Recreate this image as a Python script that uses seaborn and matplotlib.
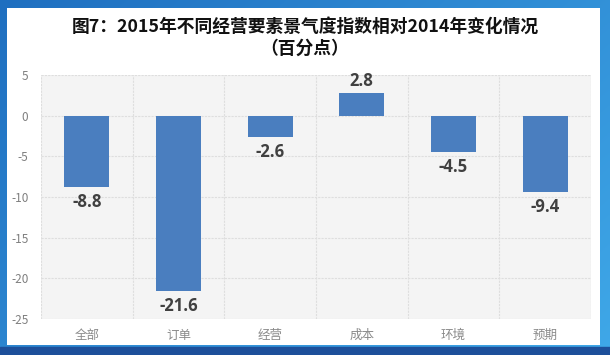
import numpy as np
import pandas as pd
import matplotlib
matplotlib.use("Agg")
import matplotlib.pyplot as plt
import seaborn as sns
from matplotlib.patches import Rectangle

categories = ["全部", "订单", "经营", "成本", "环境", "预期"]
values = [-8.8, -21.6, -2.6, 2.8, -4.5, -9.4]
yticks = [5, 0, -5, -10, -15, -20, -25]
title_line1 = "图7：2015年不同经营要素景气度指数相对2014年变化情况"
title_line2 = "（百分点）"

sns.set_theme(style="white")
plt.rcParams['font.family'] = ['Noto Sans CJK SC', 'DejaVu Sans']

W, H = 6.10, 3.55
fig = plt.figure(figsize=(W, H), dpi=100)

# blue gradient frame background
bg = fig.add_axes([0, 0, 1, 1])
grad = np.linspace(0, 1, 256)
gx, gy = np.meshgrid(grad, grad)
c1 = np.array([0x1f, 0x6f, 0xc0]) / 255
c2 = np.array([0x3f, 0xa8, 0xe8]) / 255
t = (0.6 * gx + 0.4 * (1 - gy))
img = c1[None, None, :] * (1 - t[..., None]) + c2[None, None, :] * t[..., None]
bg.imshow(img, extent=[0, 1, 0, 1], aspect="auto", origin="lower")
bg.add_patch(Rectangle((0, 0), 1, 8 / 355, color="#1d4f9a", transform=bg.transAxes))
bg.add_patch(Rectangle((7 / 610, 10 / 355), (600 - 7) / 610, (347 - 10) / 355,
                       facecolor="white", edgecolor="none", transform=bg.transAxes))
bg.set_xlim(0, 1); bg.set_ylim(0, 1)
bg.axis("off")

# plot area
left, right, top, bottom = 41, 591, 75, 319
ax = fig.add_axes([left / 610, 1 - bottom / 355, (right - left) / 610, (bottom - top) / 355])
ax.set_facecolor("#f4f4f4")

df = pd.DataFrame({"cat": categories, "val": values})
sns.barplot(data=df, x="cat", y="val", color="#4a7ebf", width=0.49, ax=ax,
            saturation=1, zorder=3, edgecolor="none", linewidth=0)

ax.set_ylim(-25, 5)
ax.set_xlim(-0.5, len(categories) - 0.5)
ax.set_yticks(yticks)
ax.set_yticklabels([str(v) for v in yticks])
ax.tick_params(axis="y", colors="#7f7f7f", labelsize=8.5, length=0, pad=9)
ax.tick_params(axis="x", colors="#8a8a8a", labelsize=9, length=0, pad=7)
ax.set_xlabel("")
ax.set_ylabel("")
for yv in yticks:
    ax.axhline(yv, color="#dedede", lw=0.8, ls=(0, (2, 1)), zorder=1)
for xv in np.arange(-0.5, len(categories), 1):
    ax.axvline(xv, color="#dedede", lw=0.8, ls=(0, (2, 1)), zorder=1)
for s in ax.spines.values():
    s.set_visible(False)

for i, v in enumerate(values):
    if v < 0:
        ax.text(i, v - 0.7, f"{v:.1f}", ha="center", va="top", fontsize=12,
                fontweight="bold", color="#404040", family=["Open Sans", "DejaVu Sans"])
    else:
        ax.text(i, v + 0.4, f"{v:.1f}", ha="center", va="bottom", fontsize=12,
                fontweight="bold", color="#404040", family=["Open Sans", "DejaVu Sans"])

fig.text(305 / 610, 1 - 27 / 355, title_line1, ha="center", va="center",
         fontsize=12.8, fontweight="bold", color="#111111")
fig.text(305 / 610, 1 - 49 / 355, title_line2, ha="center", va="center",
         fontsize=12.8, fontweight="bold", color="#111111")

fig.savefig("out.png", dpi=100)
